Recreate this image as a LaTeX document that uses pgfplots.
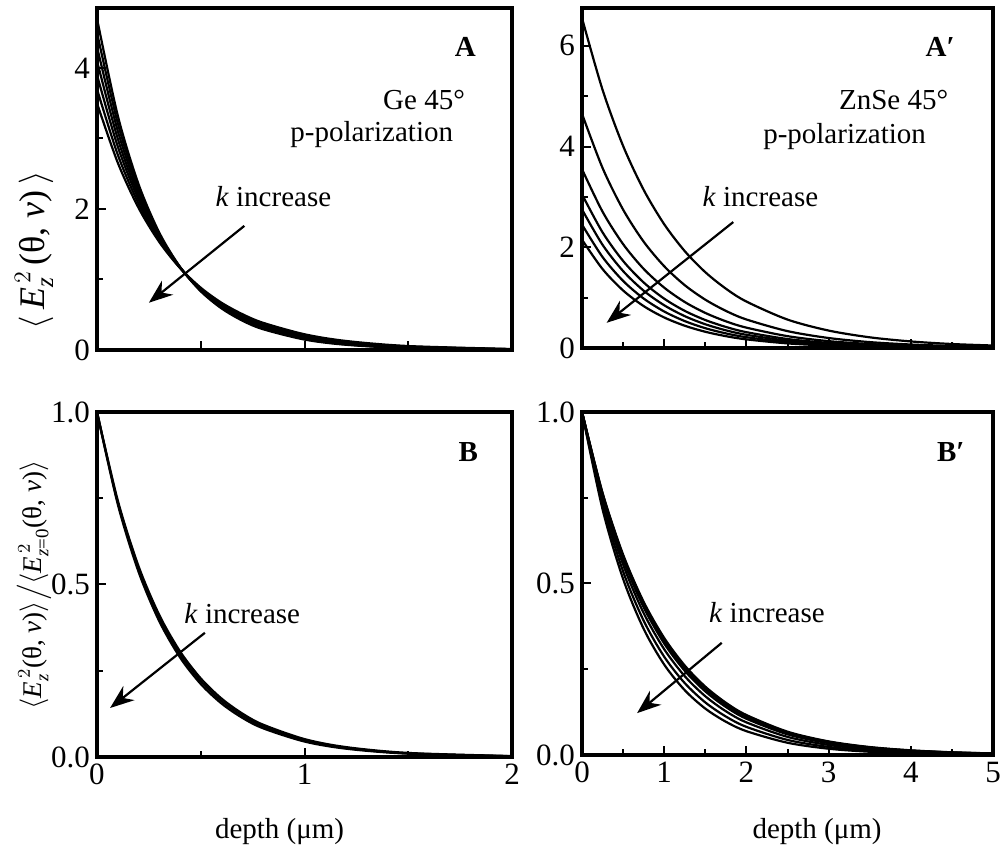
\documentclass[border=0pt]{standalone}
\usepackage{fontspec}
\usepackage{amsmath}
\setmainfont{Liberation Serif}
\usepackage{pgfplots}
\pgfplotsset{compat=1.18}
\usetikzlibrary{arrows.meta}
\newcommand{\thnu}{\text{(θ,\ }\textit{ν}\text{)}}
\newcommand{\Ezz}{\textit{E}_{\textit{z}}^{\,2}}
\tikzset{arr/.style={line width=1.1pt, -{Stealth[length=12pt,width=9pt]}}}
\pgfplotsset{
  panel/.style={
    scale only axis, anchor=south west,
    font=\fontsize{14.5}{17}\selectfont,
    tick label style={font=\fontsize{15.5}{17}\selectfont},
    axis line style={line width=1.6pt},
    tick style={line width=1pt,black},
    tick align=inside, xtick pos=bottom, ytick pos=left,
    major tick length=4.5pt, minor tick length=3pt,
    cycle list={{black,solid,mark=none}},
    every axis plot post/.append style={line width=1.1pt, smooth},
  },
}
\begin{document}
\begin{tikzpicture}
\useasboundingbox (0,0) rectangle (500.5pt,425pt);
% ---------- A ----------
\begin{axis}[panel, at={(48.5pt,250pt)}, width=207.5pt, height=171pt,
  xmin=0, xmax=2, ymin=0, ymax=4.85,
  xtick={0.5,1,1.5}, xticklabels={}, minor xtick={},
  ytick={0,2,4}, yticklabels={0,2,4}, minor ytick={1,3},
]
\addplot coordinates {(0,4.70)(0.1,3.325)(0.2,2.353)(0.3,1.665)(0.4,1.178)(0.5,0.833)(0.6,0.590)(0.7,0.417)(0.8,0.295)(1.0,0.148)(1.2,0.074)(1.5,0.026)(2.0,0.005)};
\addplot coordinates {(0,4.50)(0.1,3.217)(0.2,2.300)(0.3,1.644)(0.4,1.176)(0.5,0.840)(0.6,0.601)(0.7,0.430)(0.8,0.307)(1.0,0.157)(1.2,0.080)(1.5,0.029)(2.0,0.006)};
\addplot coordinates {(0,4.30)(0.1,3.108)(0.2,2.247)(0.3,1.624)(0.4,1.174)(0.5,0.848)(0.6,0.613)(0.7,0.443)(0.8,0.320)(1.0,0.167)(1.2,0.087)(1.5,0.033)(2.0,0.007)};
\addplot coordinates {(0,4.10)(0.1,2.997)(0.2,2.190)(0.3,1.601)(0.4,1.170)(0.5,0.855)(0.6,0.625)(0.7,0.457)(0.8,0.334)(1.0,0.178)(1.2,0.095)(1.5,0.037)(2.0,0.008)};
\addplot coordinates {(0,3.90)(0.1,2.886)(0.2,2.136)(0.3,1.580)(0.4,1.170)(0.5,0.865)(0.6,0.640)(0.7,0.474)(0.8,0.351)(1.0,0.192)(1.2,0.105)(1.5,0.043)(2.0,0.010)};
\addplot coordinates {(0,3.70)(0.1,2.771)(0.2,2.076)(0.3,1.555)(0.4,1.165)(0.5,0.872)(0.6,0.653)(0.7,0.489)(0.8,0.367)(1.0,0.206)(1.2,0.115)(1.5,0.049)(2.0,0.011)};
\addplot coordinates {(0,3.50)(0.1,2.657)(0.2,2.017)(0.3,1.532)(0.4,1.163)(0.5,0.883)(0.6,0.670)(0.7,0.509)(0.8,0.386)(1.0,0.223)(1.2,0.128)(1.5,0.056)(2.0,0.014)};
\node[anchor=east] at (axis cs:1.86,4.30) {\textbf{A}};
\node[anchor=east] at (axis cs:1.807,3.55) {Ge 45°};
\node[anchor=east] at (axis cs:1.75,3.05) {p-polarization};
\node at (axis cs:0.85,2.17) {\textit{k} increase};
\draw[arr] (axis cs:0.71,1.76) -- (axis cs:0.25,0.67);
\end{axis}
% ---------- A' ----------
\begin{axis}[panel, at={(291pt,251pt)}, width=205.5pt, height=170pt,
  xmin=0, xmax=5, ymin=0, ymax=6.75,
  xtick={1,2,3,4}, xticklabels={}, minor xtick={0.5,1.5,2.5,3.5,4.5},
  ytick={0,2,4,6}, yticklabels={0,2,4,6}, minor ytick={1,3,5},
]
\addplot coordinates {(0,6.55)(0.25,5.126)(0.5,4.012)(0.75,3.140)(1,2.457)(1.25,1.923)(1.5,1.505)(1.75,1.178)(2,0.922)(2.5,0.564)(3,0.346)(3.5,0.212)(4,0.130)(4.5,0.079)(5,0.049)};
\addplot coordinates {(0,4.65)(0.25,3.574)(0.5,2.747)(0.75,2.111)(1,1.623)(1.25,1.247)(1.5,0.959)(1.75,0.737)(2,0.566)(2.5,0.335)(3,0.198)(3.5,0.117)(4,0.069)(4.5,0.041)(5,0.024)};
\addplot coordinates {(0,3.55)(0.25,2.706)(0.5,2.062)(0.75,1.571)(1,1.198)(1.25,0.913)(1.5,0.696)(1.75,0.530)(2,0.404)(2.5,0.235)(3,0.136)(3.5,0.079)(4,0.046)(4.5,0.027)(5,0.016)};
\addplot coordinates {(0,3.05)(0.25,2.296)(0.5,1.728)(0.75,1.301)(1,0.979)(1.25,0.737)(1.5,0.555)(1.75,0.418)(2,0.314)(2.5,0.178)(3,0.101)(3.5,0.057)(4,0.032)(4.5,0.018)(5,0.010)};
\addplot coordinates {(0,2.75)(0.25,2.049)(0.5,1.527)(0.75,1.138)(1,0.848)(1.25,0.632)(1.5,0.471)(1.75,0.351)(2,0.262)(2.5,0.145)(3,0.081)(3.5,0.045)(4,0.025)(4.5,0.014)(5,0.008)};
\addplot coordinates {(0,2.45)(0.25,1.806)(0.5,1.332)(0.75,0.982)(1,0.724)(1.25,0.534)(1.5,0.393)(1.75,0.290)(2,0.214)(2.5,0.116)(3,0.063)(3.5,0.034)(4,0.019)(4.5,0.010)(5,0.006)};
\addplot coordinates {(0,2.15)(0.25,1.567)(0.5,1.142)(0.75,0.832)(1,0.606)(1.25,0.442)(1.5,0.322)(1.75,0.235)(2,0.171)(2.5,0.091)(3,0.048)(3.5,0.026)(4,0.014)(4.5,0.007)(5,0.004)};
\node[anchor=east] at (axis cs:4.62,5.98) {\textbf{A′}};
\node[anchor=east] at (axis cs:4.54,4.93) {ZnSe 45°};
\node[anchor=east] at (axis cs:4.27,4.19) {p-polarization};
\node at (axis cs:2.17,3.0) {\textit{k} increase};
\draw[arr] (axis cs:1.84,2.50) -- (axis cs:0.30,0.50);
\end{axis}
% ---------- B ----------
\begin{axis}[panel, at={(48.5pt,46.5pt)}, width=207.5pt, height=172.5pt,
  xmin=0, xmax=2, ymin=0, ymax=1,
  xtick={0,1,2}, xticklabels={0,1,2}, minor xtick={0.5,1.5},
  ytick={0,0.5,1}, yticklabels={0.0,0.5,1.0}, minor ytick={0.25,0.75},
  xlabel={depth (μm)},
  xlabel style={at={(axis description cs:0.44,-0.217)}, anchor=center},
]
\addplot coordinates {(0,1)(0.1,0.7330)(0.2,0.5373)(0.3,0.3938)(0.4,0.2887)(0.5,0.2116)(0.6,0.1551)(0.7,0.1137)(0.8,0.0833)(1.0,0.0448)(1.2,0.0241)(1.5,0.0095)(2.0,0.0020)};
\addplot coordinates {(0,1)(0.1,0.7386)(0.2,0.5455)(0.3,0.4029)(0.4,0.2976)(0.5,0.2198)(0.6,0.1624)(0.7,0.1199)(0.8,0.0886)(1.0,0.0483)(1.2,0.0264)(1.5,0.0106)(2.0,0.0023)};
\addplot coordinates {(0,1)(0.1,0.7439)(0.2,0.5534)(0.3,0.4117)(0.4,0.3062)(0.5,0.2278)(0.6,0.1695)(0.7,0.1261)(0.8,0.0938)(1.0,0.0519)(1.2,0.0287)(1.5,0.0118)(2.0,0.0027)};
\node[anchor=east] at (axis cs:1.87,0.884) {\textbf{B}};
\node at (axis cs:0.70,0.417) {\textit{k} increase};
\draw[arr] (axis cs:0.52,0.36) -- (axis cs:0.063,0.142);
\end{axis}
% ---------- B' ----------
\begin{axis}[panel, at={(291pt,47.5pt)}, width=205.5pt, height=171.5pt,
  xmin=0, xmax=5, ymin=0, ymax=1,
  xtick={0,1,2,3,4,5}, xticklabels={0,1,2,3,4,5}, minor xtick={0.5,1.5,2.5,3.5,4.5},
  ytick={0,0.5,1}, yticklabels={0.0,0.5,1.0}, minor ytick={0.25,0.75},
  xlabel={depth (μm)},
  xlabel style={at={(axis description cs:0.572,-0.224)}, anchor=center},
]
\addplot coordinates {(0,1)(0.25,0.7643)(0.5,0.5842)(0.75,0.4465)(1,0.3412)(1.25,0.2608)(1.5,0.1993)(1.75,0.1524)(2,0.1165)(2.5,0.0680)(3,0.0397)(3.5,0.0232)(4,0.0136)(4.5,0.0079)(5,0.0046)};
\addplot coordinates {(0,1)(0.25,0.7621)(0.5,0.5808)(0.75,0.4426)(1,0.3373)(1.25,0.2571)(1.5,0.1959)(1.75,0.1493)(2,0.1138)(2.5,0.0661)(3,0.0384)(3.5,0.0223)(4,0.0130)(4.5,0.0075)(5,0.0044)};
\addplot coordinates {(0,1)(0.25,0.7598)(0.5,0.5773)(0.75,0.4386)(1,0.3333)(1.25,0.2532)(1.5,0.1924)(1.75,0.1462)(2,0.1111)(2.5,0.0641)(3,0.0370)(3.5,0.0214)(4,0.0123)(4.5,0.0071)(5,0.0041)};
\addplot coordinates {(0,1)(0.25,0.7551)(0.5,0.5702)(0.75,0.4305)(1,0.3251)(1.25,0.2455)(1.5,0.1854)(1.75,0.1400)(2,0.1057)(2.5,0.0603)(3,0.0344)(3.5,0.0196)(4,0.0112)(4.5,0.0064)(5,0.0036)};
\addplot coordinates {(0,1)(0.25,0.7452)(0.5,0.5553)(0.75,0.4138)(1,0.3084)(1.25,0.2298)(1.5,0.1713)(1.75,0.1276)(2,0.0951)(2.5,0.0528)(3,0.0293)(3.5,0.0163)(4,0.0091)(4.5,0.0050)(5,0.0028)};
\addplot coordinates {(0,1)(0.25,0.7316)(0.5,0.5352)(0.75,0.3916)(1,0.2865)(1.25,0.2096)(1.5,0.1533)(1.75,0.1122)(2,0.0821)(2.5,0.0439)(3,0.0235)(3.5,0.0126)(4,0.0067)(4.5,0.0036)(5,0.0019)};
\addplot coordinates {(0,1)(0.25,0.7165)(0.5,0.5134)(0.75,0.3679)(1,0.2636)(1.25,0.1889)(1.5,0.1353)(1.75,0.0970)(2,0.0695)(2.5,0.0357)(3,0.0183)(3.5,0.0094)(4,0.0048)(4.5,0.0025)(5,0.0013)};
\node[anchor=east] at (axis cs:4.74,0.883) {\textbf{B′}};
\node at (axis cs:2.25,0.414) {\textit{k} increase};
\draw[arr] (axis cs:1.70,0.327) -- (axis cs:0.67,0.122);
\end{axis}
% ---------- y labels ----------
\node[rotate=90, anchor=center] at (17pt,300pt)
  {\fontsize{18}{20}\selectfont$\langle\, \Ezz\,\thnu\,\rangle$};
\node[rotate=90, anchor=center, inner sep=1pt] at (17pt,132.5pt)
  {\fontsize{13.5}{15}\selectfont$\langle \Ezz\thnu\rangle\big/\langle \textit{E}_{\textit{z}\text{=0}}^{\,2}\thnu\rangle$};
\end{tikzpicture}
\end{document}
